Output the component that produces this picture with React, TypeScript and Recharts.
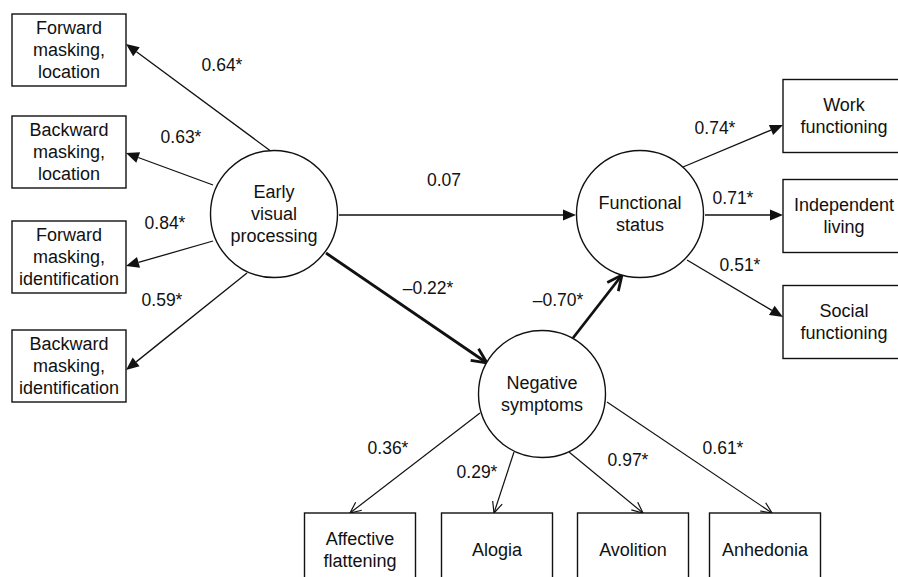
import { ScatterChart, Scatter, XAxis, YAxis, ReferenceLine } from 'recharts'

const W = 898
const H = 577
const FONT = '"Liberation Sans", Arial, sans-serif'

// observed indicators (diagram units, y grows downward)
const visualIndicators = [
  { x: 69, y: 50, lines: ['Forward', 'masking,', 'location'] },
  { x: 69, y: 152, lines: ['Backward', 'masking,', 'location'] },
  { x: 69, y: 257, lines: ['Forward', 'masking,', 'identification'] },
  { x: 69, y: 366, lines: ['Backward', 'masking,', 'identification'] },
]
const functionIndicators = [
  { x: 844, y: 116, lines: ['Work', 'functioning'] },
  { x: 844, y: 216, lines: ['Independent', 'living'] },
  { x: 844, y: 322, lines: ['Social', 'functioning'] },
]
const symptomIndicators = [
  { x: 360, y: 550, lines: ['Affective', 'flattening'] },
  { x: 497, y: 550, lines: ['Alogia'] },
  { x: 633, y: 550, lines: ['Avolition'] },
  { x: 765, y: 550, lines: ['Anhedonia'] },
]
// latent factors
const latents = [
  { x: 274, y: 214, lines: ['Early', 'visual', 'processing'] },
  { x: 640, y: 214, lines: ['Functional', 'status'] },
  { x: 542, y: 394, lines: ['Negative', 'symptoms'] },
]

// paths: start, end, coefficient and where its label sits
const visualLoadings = [
  { coef: '0.64*', x1: 272, y1: 152, x2: 126, y2: 44, lx: 222, ly: 65 },
  { coef: '0.63*', x1: 213, y1: 185, x2: 126, y2: 153, lx: 181, ly: 137 },
  { coef: '0.84*', x1: 213, y1: 241, x2: 126, y2: 266, lx: 165, ly: 223 },
  { coef: '0.59*', x1: 247, y1: 273, x2: 126, y2: 370, lx: 162, ly: 300 },
]
const functionLoadings = [
  { coef: '0.74*', x1: 683, y1: 167, x2: 783, y2: 125, lx: 715, ly: 128 },
  { coef: '0.71*', x1: 705, y1: 215, x2: 783, y2: 215, lx: 733, ly: 198 },
  { coef: '0.51*', x1: 687, y1: 260, x2: 783, y2: 317, lx: 740, ly: 265 },
]
const directPaths = [
  { coef: '0.07', x1: 339, y1: 215, x2: 576, y2: 215, lx: 444, ly: 180 },
]
const mediatedPaths = [
  { coef: '\u20130.22*', x1: 326, y1: 253, x2: 487, y2: 363, lx: 428, ly: 288 },
  { coef: '\u20130.70*', x1: 573, y1: 338, x2: 622, y2: 275, lx: 558, ly: 300 },
]
const symptomLoadings = [
  { coef: '0.36*', x1: 480, y1: 413, x2: 350, y2: 513, lx: 388, ly: 448 },
  { coef: '0.29*', x1: 514, y1: 452, x2: 494, y2: 513, lx: 477, ly: 472 },
  { coef: '0.97*', x1: 569, y1: 452, x2: 643, y2: 513, lx: 628, ly: 460 },
  { coef: '0.61*', x1: 607, y1: 402, x2: 772, y2: 513, lx: 723, ly: 448 },
]

type Path = { coef: string; x1: number; y1: number; x2: number; y2: number; lx: number; ly: number }

function head(x1: number, y1: number, x2: number, y2: number, len: number, half: number) {
  const dx = x2 - x1
  const dy = y2 - y1
  const L = Math.hypot(dx, dy) || 1
  const ux = dx / L
  const uy = dy / L
  const bx = x2 - ux * len
  const by = y2 - uy * len
  return { bx, by, a: [bx - uy * half, by + ux * half], b: [bx + uy * half, by - ux * half] }
}

function makeArrow(kind: 'filled' | 'open' | 'bold') {
  return (p: any) => {
    const { x1, y1, x2, y2 } = p
    if (kind === 'filled') {
      const h = head(x1, y1, x2, y2, 13, 5.5)
      return (
        <g>
          <line x1={x1} y1={y1} x2={h.bx} y2={h.by} stroke="#111" strokeWidth={1.3} />
          <polygon points={`${x2},${y2} ${h.a[0]},${h.a[1]} ${h.b[0]},${h.b[1]}`} fill="#111" />
        </g>
      )
    }
    const bold = kind === 'bold'
    const h = head(x1, y1, x2, y2, bold ? 15 : 11, bold ? 7 : 5)
    return (
      <g fill="none" stroke="#111" strokeWidth={bold ? 2.8 : 1.2} strokeLinejoin="miter">
        <line x1={x1} y1={y1} x2={x2} y2={y2} />
        <polyline points={`${h.a[0]},${h.a[1]} ${x2},${y2} ${h.b[0]},${h.b[1]}`} />
      </g>
    )
  }
}

function textLines(cx: number, cy: number, lines: string[], size: number) {
  const step = 22
  const top = cy - ((lines.length - 1) * step) / 2
  return lines.map((t, i) => (
    <text key={i} x={cx} y={top + i * step} textAnchor="middle" dominantBaseline="central"
      fontFamily={FONT} fontSize={size} fill="#111">{t}</text>
  ))
}

function boxShape(w: number, h: number) {
  return (p: any) => (
    <g>
      <rect x={p.cx - w / 2} y={p.cy - h / 2} width={w} height={h} fill="#fff" stroke="#111" strokeWidth={1.4} />
      {textLines(p.cx, p.cy, p.payload.lines, 18)}
    </g>
  )
}

const circleShape = (p: any) => (
  <g>
    <circle cx={p.cx} cy={p.cy} r={63.5} fill="#fff" stroke="#111" strokeWidth={1.4} />
    {textLines(p.cx, p.cy, p.payload.lines, 18)}
  </g>
)

const labelShape = (p: any) => (
  <text x={p.cx} y={p.cy} textAnchor="middle" dominantBaseline="central" fontFamily={FONT} fontSize={17.5} fill="#111">
    {p.payload.coef}
  </text>
)

const allPaths: Path[] = [...visualLoadings, ...functionLoadings, ...directPaths, ...mediatedPaths, ...symptomLoadings]

export default function App() {
  const seg = (e: Path) => [{ x: e.x1, y: e.y1 }, { x: e.x2, y: e.y2 }]
  return (
    <div style={{ position: 'absolute', left: 0, top: 0, width: W, height: H, background: '#fff' }}>
      <ScatterChart width={W} height={H} margin={{ top: 0, right: 0, bottom: 0, left: 0 }}>
        <XAxis type="number" dataKey="x" domain={[0, W]} hide allowDataOverflow />
        <YAxis type="number" dataKey="y" domain={[0, H]} hide reversed allowDataOverflow />
        {[...visualLoadings, ...functionLoadings, ...directPaths].map((e, i) => (
          <ReferenceLine key={'f' + i} segment={seg(e)} ifOverflow="visible" shape={makeArrow('filled')} />
        ))}
        {mediatedPaths.map((e, i) => (
          <ReferenceLine key={'b' + i} segment={seg(e)} ifOverflow="visible" shape={makeArrow('bold')} />
        ))}
        {symptomLoadings.map((e, i) => (
          <ReferenceLine key={'o' + i} segment={seg(e)} ifOverflow="visible" shape={makeArrow('open')} />
        ))}
        <Scatter data={visualIndicators} shape={boxShape(114, 72)} isAnimationActive={false} />
        <Scatter data={functionIndicators} shape={boxShape(122, 73)} isAnimationActive={false} />
        <Scatter data={symptomIndicators} shape={boxShape(111, 74)} isAnimationActive={false} />
        <Scatter data={latents} shape={circleShape} isAnimationActive={false} />
        <Scatter data={allPaths.map(e => ({ x: e.lx, y: e.ly, coef: e.coef }))} shape={labelShape} isAnimationActive={false} />
      </ScatterChart>
    </div>
  )
}
